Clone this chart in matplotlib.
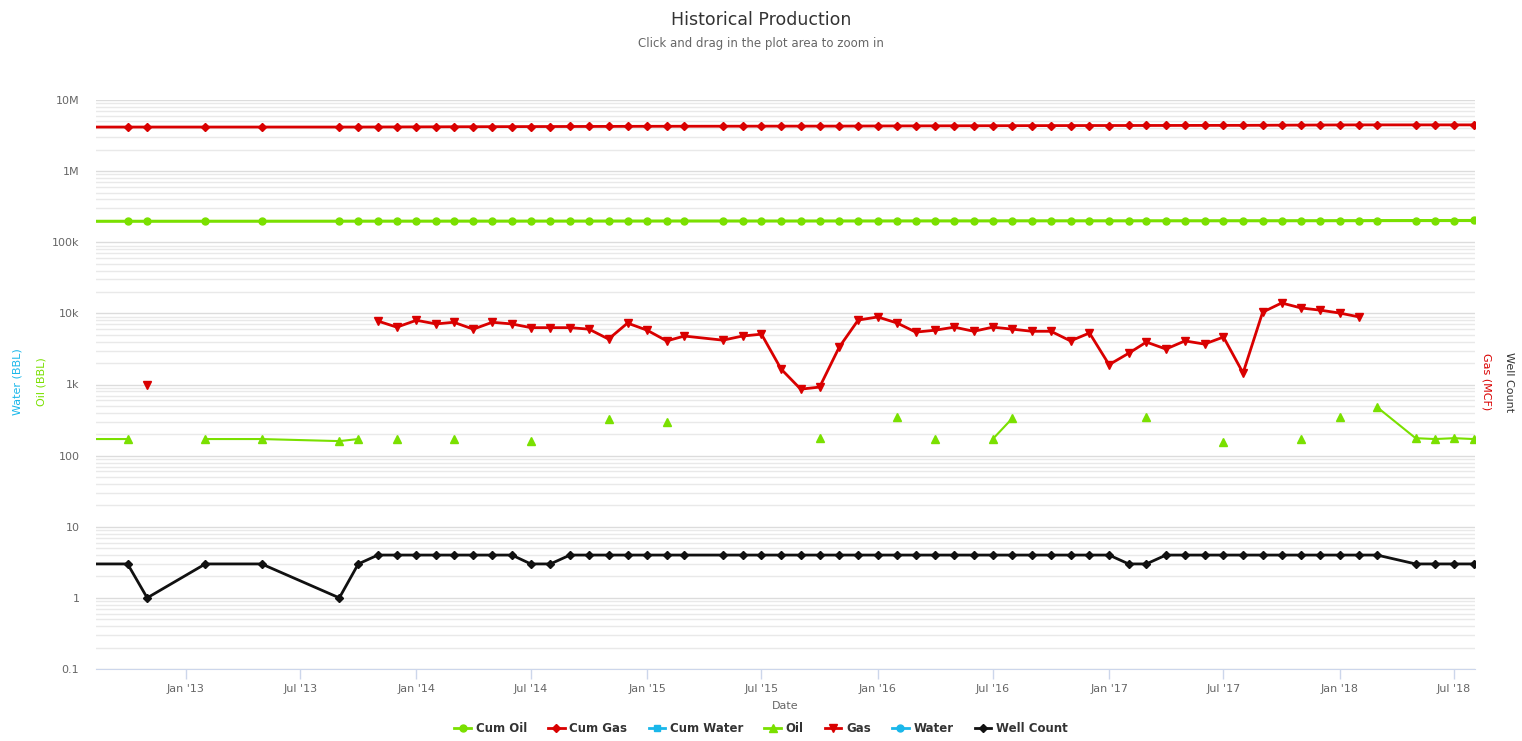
import numpy as np
import pandas as pd
import matplotlib
matplotlib.use('Agg')
import matplotlib.pyplot as plt
import matplotlib.dates as mdates
from matplotlib.ticker import LogLocator, FuncFormatter, NullFormatter
from matplotlib.lines import Line2D

nan = np.nan

# one record per reported month (first entry sits left of the visible window)
months = ["2012-07", "2012-10", "2012-11", "2013-02", "2013-05", "2013-09", "2013-10", "2013-11", "2013-12",
          "2014-01", "2014-02", "2014-03", "2014-04", "2014-05", "2014-06",
          "2014-07", "2014-08", "2014-09", "2014-10", "2014-11", "2014-12",
          "2015-01", "2015-02", "2015-03", "2015-05", "2015-06", "2015-07",
          "2015-08", "2015-09", "2015-10", "2015-11", "2015-12",
          "2016-01", "2016-02", "2016-03", "2016-04", "2016-05", "2016-06",
          "2016-07", "2016-08", "2016-09", "2016-10", "2016-11", "2016-12",
          "2017-01", "2017-02", "2017-03", "2017-04", "2017-05", "2017-06",
          "2017-07", "2017-08", "2017-09", "2017-10", "2017-11", "2017-12",
          "2018-01", "2018-02", "2018-03", "2018-05", "2018-06", "2018-07", "2018-08"]

cum_oil = [197000, 197200, 197200, 197400, 197500, 197700, 197900, 197900, 198000,
           198000, 198000, 198200, 198200, 198200, 198200,
           198400, 198400, 198400, 198400, 198700, 198700,
           198700, 199000, 199000, 199000, 199000, 199000,
           199000, 199000, 199200, 199200, 199200,
           199200, 199500, 199500, 199700, 199700, 199700,
           199900, 200200, 200200, 200200, 200200, 200200,
           200200, 200200, 200500, 200500, 200500, 200500,
           200700, 200700, 200700, 200700, 200900, 200900,
           201200, 201200, 201700, 201900, 202000, 202200, 202300]

cum_gas = [4165000, 4166000, 4167000, 4167000, 4167000, 4167000, 4167000, 4175000, 4181000,
           4189000, 4196000, 4204000, 4210000, 4217000, 4224000,
           4231000, 4237000, 4243000, 4249000, 4254000, 4261000,
           4267000, 4271000, 4275000, 4280000, 4284000, 4289000,
           4291000, 4292000, 4293000, 4296000, 4304000,
           4313000, 4320000, 4326000, 4332000, 4338000, 4344000,
           4350000, 4356000, 4362000, 4367000, 4371000, 4377000,
           4379000, 4381000, 4385000, 4388000, 4392000, 4396000,
           4401000, 4402000, 4413000, 4427000, 4438000, 4450000,
           4460000, 4469000, 4469000, 4469000, 4469000, 4469000, 4469000]

oil = [171, 171, nan, 171, 171, 160, 171, nan, 171,
       nan, nan, 171, nan, nan, nan,
       160, nan, nan, nan, 326, nan,
       nan, 296, nan, nan, nan, nan,
       nan, nan, 176, nan, nan,
       nan, 348, nan, 171, nan, nan,
       171, 336, nan, nan, nan, nan,
       nan, nan, 348, nan, nan, nan,
       155, nan, nan, nan, 171, nan,
       348, nan, 481, 176, 171, 176, 171]

gas = [nan, nan, 980, nan, nan, nan, nan, 7800, 6400,
       8000, 7100, 7500, 6000, 7500, 7100,
       6300, 6300, 6300, 6000, 4350, 7300,
       5800, 4100, 4800, 4200, 4800, 5100,
       1650, 860, 920, 3350, 8050,
       8900, 7300, 5450, 5800, 6400, 5600,
       6400, 6000, 5600, 5600, 4100, 5300,
       1900, 2750, 3950, 3150, 4100, 3700,
       4650, 1450, 10400, 14000, 11900, 11100,
       10100, 8900, nan, nan, nan, nan, nan]

well_count = [3, 3, 1, 3, 3, 1, 3, 4, 4,
              4, 4, 4, 4, 4, 4,
              3, 3, 4, 4, 4, 4,
              4, 4, 4, 4, 4, 4,
              4, 4, 4, 4, 4,
              4, 4, 4, 4, 4, 4,
              4, 4, 4, 4, 4, 4,
              4, 3, 3, 4, 4, 4,
              4, 4, 4, 4, 4, 4,
              4, 4, 4, 3, 3, 3, 3]

tick_dates = ["2013-01", "2013-07", "2014-01", "2014-07", "2015-01", "2015-07",
              "2016-01", "2016-07", "2017-01", "2017-07", "2018-01", "2018-07"]
y_ticks = [0.1, 1, 10, 100, 1e3, 1e4, 1e5, 1e6, 1e7]

dates = pd.to_datetime(months)

GREEN = '#7ae000'
RED = '#d90000'
CYAN = '#1ab7ea'
BLACK = '#111111'

fig = plt.figure(figsize=(15.22, 7.41), dpi=100)
ax = fig.add_axes([96 / 1522, 1 - 669 / 741, (1475 - 96) / 1522, (669 - 100) / 741])
ax.set_yscale('log')

ax.plot(dates, cum_oil, color=GREEN, lw=2.2, marker='o', ms=5, zorder=3)
ax.plot(dates, cum_gas, color=RED, lw=2, marker='D', ms=3.8, zorder=3)
ax.plot(dates, oil, color=GREEN, lw=1.5, marker='^', ms=5.2, zorder=3)
ax.plot(dates, gas, color=RED, lw=2, marker='v', ms=5.2, zorder=3)
ax.plot(dates, well_count, color=BLACK, lw=2, marker='D', ms=3.8, zorder=4)

ax.set_xlim(pd.Timestamp('2012-08-12'), pd.Timestamp('2018-08-03'))


def fmt(v, pos):
    if v >= 1e6:
        return f"{v / 1e6:g}M"
    if v >= 1e3:
        return f"{v / 1e3:g}k"
    return f"{v:g}"


ax.set_yticks(y_ticks)
ax.yaxis.set_major_formatter(FuncFormatter(fmt))
ax.yaxis.set_minor_locator(LogLocator(base=10, subs=np.arange(2, 10), numticks=12))
ax.yaxis.set_minor_formatter(NullFormatter())
ax.set_ylim(0.1, 1e7)

ax.grid(True, which='major', axis='y', color='#dcdcdc', lw=1)
ax.grid(True, which='minor', axis='y', color='#e9e9e9', lw=1)
ax.set_axisbelow(True)
ax.tick_params(axis='y', which='both', length=0, labelsize=8, labelcolor='#666666', pad=12)

ax.set_xticks(pd.to_datetime(tick_dates))
ax.xaxis.set_major_formatter(mdates.DateFormatter("%b '%y"))
ax.tick_params(axis='x', length=7, width=1, color='#ccd6eb', labelsize=8, labelcolor='#666666', pad=4)

for side in ['top', 'left', 'right']:
    ax.spines[side].set_visible(False)
ax.spines['bottom'].set_color('#ccd6eb')

ax.set_xlabel('Date', fontsize=8, color='#666666', labelpad=5)

fig.text(0.5, 1 - 20 / 741, 'Historical Production', ha='center', va='center', fontsize=12.5, color='#333333')
fig.text(0.5, 1 - 43 / 741, 'Click and drag in the plot area to zoom in', ha='center', va='center',
         fontsize=8.5, color='#666666')

fig.text(17 / 1522, 1 - 382 / 741, 'Water (BBL)', rotation=90, ha='center', va='center', fontsize=8, color=CYAN)
fig.text(41 / 1522, 1 - 382 / 741, 'Oil (BBL)', rotation=90, ha='center', va='center', fontsize=8, color=GREEN)
fig.text(1487 / 1522, 1 - 382 / 741, 'Gas (MCF)', rotation=270, ha='center', va='center', fontsize=8, color=RED)
fig.text(1509 / 1522, 1 - 382 / 741, 'Well Count', rotation=270, ha='center', va='center', fontsize=8, color='#333333')

handles = [
    Line2D([], [], color=GREEN, lw=2, marker='o', ms=5),
    Line2D([], [], color=RED, lw=2, marker='D', ms=4),
    Line2D([], [], color=CYAN, lw=2, marker='s', ms=5),
    Line2D([], [], color=GREEN, lw=2, marker='^', ms=5.5),
    Line2D([], [], color=RED, lw=2, marker='v', ms=5.5),
    Line2D([], [], color=CYAN, lw=2, marker='o', ms=5),
    Line2D([], [], color=BLACK, lw=2, marker='D', ms=4),
]
labels = ['Cum Oil', 'Cum Gas', 'Cum Water', 'Oil', 'Gas', 'Water', 'Well Count']
leg = fig.legend(handles, labels, loc='center', bbox_to_anchor=(0.5, 1 - 729 / 741), ncol=7, frameon=False,
                 fontsize=8.5, handlelength=1.4, columnspacing=1.8, handletextpad=0.4,
                 borderpad=0.2)
for t in leg.get_texts():
    t.set_color('#333333')
    t.set_fontweight('bold')

fig.savefig('out.png', dpi=100)
